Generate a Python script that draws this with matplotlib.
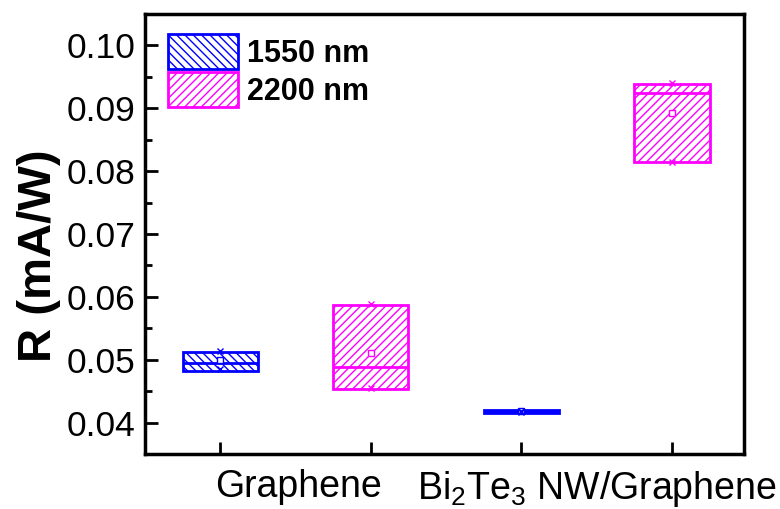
import matplotlib as mpl
mpl.use('Agg')
import numpy as np
import matplotlib.pyplot as plt
from matplotlib.patches import Patch

plt.rcParams['font.family'] = ['Liberation Sans', 'DejaVu Sans']
plt.rcParams['mathtext.fontset'] = 'custom'
plt.rcParams['mathtext.rm'] = 'Liberation Sans'
plt.rcParams['mathtext.it'] = 'Liberation Sans:italic'
plt.rcParams['hatch.linewidth'] = 1.0

# box statistics (mA/W)
positions = [1, 2, 3, 4]
colors = ['#0000ff', '#ff00ff', '#0000ff', '#ff00ff']
hatches = ['\\\\\\\\', '////', '\\\\\\\\', '////']
q1 = [0.04814, 0.04535, 0.04160, 0.0814]
q3 = [0.0513, 0.0587, 0.04195, 0.0939]
median = [0.04952, 0.0489, 0.04178, 0.0925]
mean = [0.0500, 0.0511, 0.04178, 0.0892]
vmin = [0.0485, 0.04545, 0.04170, 0.0814]
vmax = [0.0514, 0.0588, 0.04192, 0.0940]

group_labels = ['Graphene', r'Bi$_2$Te$_3$ NW/Graphene']
group_pos = [1.52, 3.5]

fig = plt.figure(figsize=(7.8, 5.09), dpi=100)
ax = fig.add_axes([0.186, 0.108, 0.768, 0.8645])

width = 0.5
for i in range(len(positions)):
    ax.bar(positions[i], q3[i] - q1[i], width=width, bottom=q1[i],
           facecolor='white', edgecolor=colors[i], hatch=hatches[i],
           linewidth=2, zorder=2)
    ax.hlines(median[i], positions[i] - width / 2, positions[i] + width / 2,
              color=colors[i], linewidth=2, zorder=3)
    ax.plot(positions[i], mean[i], 's', ms=4, mfc='white', mec=colors[i],
            mew=1, zorder=4)
    ax.plot([positions[i], positions[i]], [vmin[i], vmax[i]], 'x', ms=5,
            color=colors[i], mew=1, zorder=4)

ax.set_xlim(0.5, 4.48)
ax.set_ylim(0.035, 0.105)
ax.set_yticks(np.arange(0.04, 0.101, 0.01))
ax.set_yticks(np.arange(0.045, 0.105, 0.01), minor=True)
ax.set_yticklabels(['%.2f' % v for v in np.arange(0.04, 0.101, 0.01)])
ax.set_xticks(positions)
ax.set_xticklabels([])
ax.set_xticks(group_pos, minor=True)
ax.set_xticklabels(group_labels, minor=True, fontsize=27)

ax.tick_params(axis='y', which='major', direction='in', length=9, width=2,
               labelsize=25.5, pad=7)
ax.tick_params(axis='y', which='minor', direction='in', length=5, width=2)
ax.tick_params(axis='x', which='major', direction='in', length=9, width=2)
ax.tick_params(axis='x', which='minor', length=0, pad=11)
for s in ax.spines.values():
    s.set_linewidth(2.5)

ax.set_ylabel('R (mA/W)', fontsize=34, fontweight='bold')
ax.yaxis.set_label_coords(-0.14, 0.45)

handles = [Patch(facecolor='white', edgecolor='#0000ff', hatch='\\\\\\\\',
                 linewidth=2, label='1550 nm'),
           Patch(facecolor='white', edgecolor='#ff00ff', hatch='////',
                 linewidth=2, label='2200 nm')]
ax.legend(handles=handles, loc='upper left', frameon=False,
          prop={'weight': 'bold', 'size': 22}, handlelength=2.3,
          handleheight=1.4, handletextpad=0.3, labelspacing=0.1,
          borderpad=0, borderaxespad=0, bbox_to_anchor=(0.038, 0.955))

plt.savefig('out.png', dpi=100)
plt.close()
